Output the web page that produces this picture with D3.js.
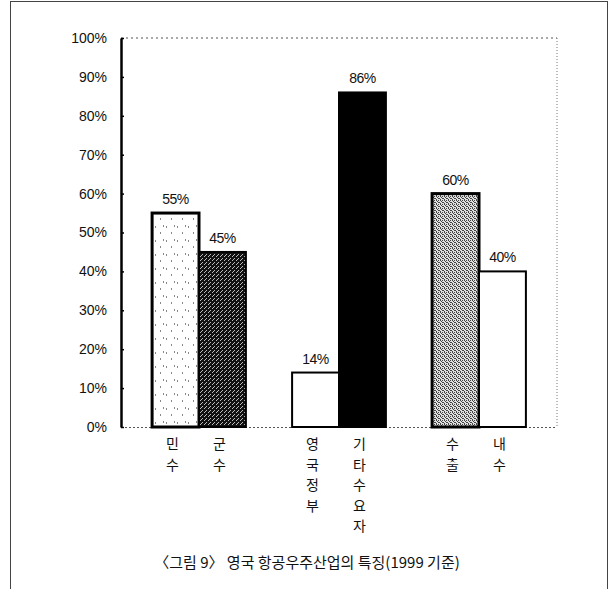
<!DOCTYPE html>
<html>
<head>
<meta charset="utf-8">
<script src="https://cdn.jsdelivr.net/npm/d3@7"></script>
<style>
  html, body { margin: 0; padding: 0; background: #fff; }
  svg { display: block; }
  .num { font-family: "Liberation Sans", Arial, sans-serif; font-size: 14px; fill: #111; }
  .kr { font-family: "Noto Sans CJK KR", sans-serif; font-size: 14px; fill: #111; }
  .cap { font-family: "Noto Sans CJK KR", sans-serif; font-size: 15px; fill: #111; }
</style>
</head>
<body>
<svg id="chart" width="614" height="589"></svg>
<script>
// 영국 항공우주산업의 특징 (1999 기준)
const groups = ["민수·군수", "정부·기타", "수출·내수"];
const categories = ["민수", "군수", "영국정부", "기타수요자", "수출", "내수"];
const values = [55, 45, 14, 86, 60, 40];
const groupIndex = [0, 0, 1, 1, 2, 2];
const fills = ["light", "dark", "white", "black", "mid", "white"];
const yTickValues = [0, 10, 20, 30, 40, 50, 60, 70, 80, 90, 100];
const caption = "〈그림 9〉 영국 항공우주산업의 특징(1999 기준)";

const svg = d3.select("#chart");
const defs = svg.append("defs");

// sparse speckle texture
const pLight = defs.append("pattern").attr("id", "light")
  .attr("patternUnits", "userSpaceOnUse").attr("width", 11).attr("height", 14);
pLight.append("rect").attr("width", 11).attr("height", 14).attr("fill", "#fff");
[[1,2],[6,8],[9,1]].forEach(([x, y]) =>
  pLight.append("rect").attr("x", x).attr("y", y).attr("width", 1).attr("height", 2).attr("fill", "#888"));

// dense dark texture
const pDark = defs.append("pattern").attr("id", "dark")
  .attr("patternUnits", "userSpaceOnUse").attr("width", 4).attr("height", 4);
pDark.append("rect").attr("width", 4).attr("height", 4).attr("fill", "#111");
[[0,0],[2,2],[1,3]].forEach(([x, y]) =>
  pDark.append("rect").attr("x", x).attr("y", y).attr("width", 1).attr("height", 1).attr("fill", "#bbb"));

// medium gray stipple
const pMid = defs.append("pattern").attr("id", "mid")
  .attr("patternUnits", "userSpaceOnUse").attr("width", 4).attr("height", 4);
pMid.append("rect").attr("width", 4).attr("height", 4).attr("fill", "#e0e0e0");
[[0,0],[2,0],[1,1],[3,2],[0,3],[2,2]].forEach(([x, y]) =>
  pMid.append("rect").attr("x", x).attr("y", y).attr("width", 1).attr("height", 1).attr("fill", "#444"));

const fillFor = f => f === "white" ? "#fff" : f === "black" ? "#000" : `url(#${f})`;

// page frame
svg.append("rect").attr("x", 10.5).attr("y", 1.5).attr("width", 597).attr("height", 600)
  .attr("fill", "none").attr("stroke", "#444").attr("stroke-width", 1);

const x0 = 121, x1 = 557;
const y = d3.scaleLinear().domain([0, 100]).range([427, 38]);
const xg = d3.scaleBand().domain(groups).range([129, 549]).paddingInner(0.33).paddingOuter(0.165);
const xs = d3.scaleBand().domain([0, 1]).range([0, xg.bandwidth()]);

// dotted top and right edges of the plot
svg.append("line").attr("x1", x0).attr("x2", x1).attr("y1", y(100)).attr("y2", y(100))
  .attr("stroke", "#555").attr("stroke-dasharray", "2,3");
svg.append("line").attr("x1", x1).attr("x2", x1).attr("y1", y(100)).attr("y2", y(0))
  .attr("stroke", "#777").attr("stroke-dasharray", "1,2");
// baseline
svg.append("line").attr("x1", x0).attr("x2", x1).attr("y1", y(0) + 0.5).attr("y2", y(0) + 0.5)
  .attr("stroke", "#555").attr("stroke-dasharray", "2,2");

// y axis
const yAxis = d3.axisLeft(y).tickValues(yTickValues).tickFormat(d => d + "%").tickSize(0).tickPadding(14);
const ya = svg.append("g").attr("transform", `translate(${x0},0)`).call(yAxis);
ya.select(".domain").attr("stroke", "#000").attr("stroke-width", 2.5);
ya.selectAll(".tick text").attr("class", "num").attr("font-family", null).attr("font-size", null);
ya.selectAll(".tick").append("line").attr("x1", 0).attr("x2", 3).attr("stroke", "#000").attr("stroke-width", 1.5);

const barX = i => xg(groups[groupIndex[i]]) + xs(i % 2);
const bw = xs.bandwidth();

// bars
svg.append("g").selectAll("rect").data(values).join("rect")
  .attr("x", (d, i) => barX(i))
  .attr("y", d => y(d))
  .attr("width", bw)
  .attr("height", d => y(0) - y(d))
  .attr("fill", (d, i) => fillFor(fills[i]))
  .attr("stroke", "#000")
  .attr("stroke-width", (d, i) => (fills[i] === "light" || fills[i] === "mid") ? 3 : 2);

// value labels
svg.append("g").selectAll("text").data(values).join("text")
  .attr("class", "num")
  .attr("x", (d, i) => barX(i) + bw / 2)
  .attr("y", d => y(d) - 9)
  .attr("text-anchor", "middle")
  .attr("letter-spacing", "-0.5")
  .text(d => d + "%");

// vertical category labels
const catG = svg.append("g");
categories.forEach((c, i) => {
  const cx = barX(i) + bw / 2 - 3;
  Array.from(c).forEach((ch, k) => {
    catG.append("text").attr("class", "kr")
      .attr("x", cx).attr("y", 449 + k * 20.5)
      .attr("text-anchor", "middle")
      .text(ch);
  });
});

// caption
svg.append("text").attr("class", "cap")
  .attr("x", 307).attr("y", 568)
  .attr("text-anchor", "middle")
  .text(caption);
</script>
</body>
</html>
